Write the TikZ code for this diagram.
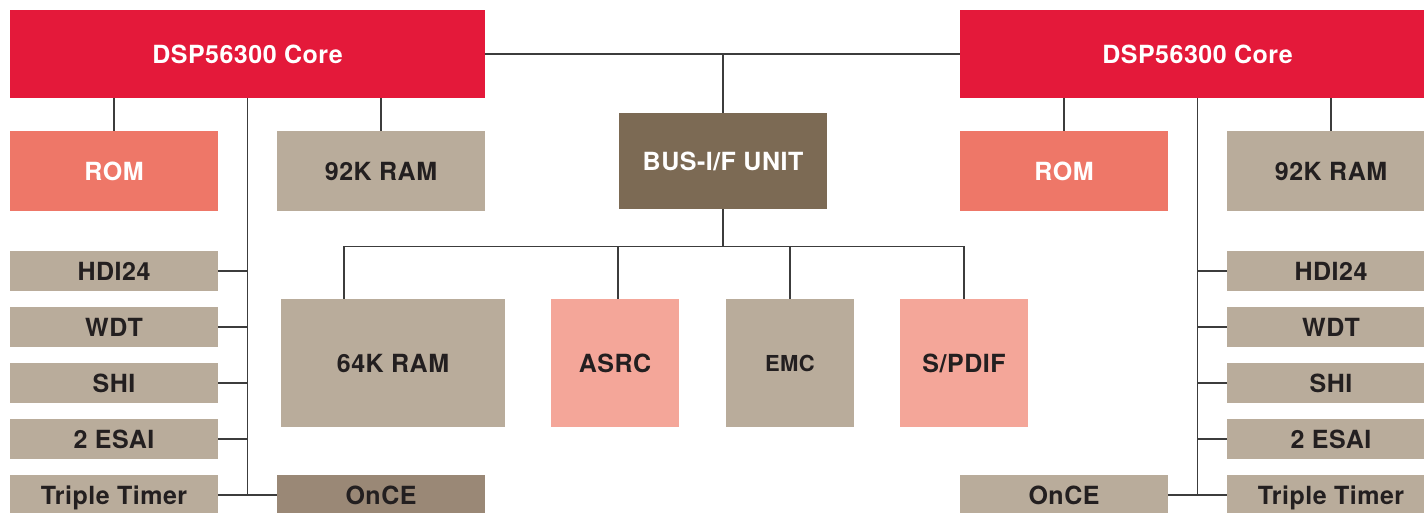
\documentclass[tikz,border=0pt]{standalone}
\usepackage{fontspec}
\setmainfont{TeX Gyre Heros}[LetterSpace=2]
\definecolor{corered}{HTML}{E4193A}
\definecolor{romred}{HTML}{EE7768}
\definecolor{taupe}{HTML}{B9AC9B}
\definecolor{busbrown}{HTML}{7C6A54}
\definecolor{pinkbox}{HTML}{F4A699}
\definecolor{oncebrown}{HTML}{9A8876}
\definecolor{txtdark}{HTML}{231F20}
\definecolor{wire}{HTML}{3C3C3C}
\tikzset{
  blk/.style={rectangle, inner sep=0pt, draw=none, font=\fontsize{25}{30}\selectfont\bfseries, text=txtdark, text height=18pt, text depth=0pt},
  core/.style={blk, fill=corered, text=white, minimum width=475pt, minimum height=88pt},
  rom/.style={blk, fill=romred, text=white, minimum width=208pt, minimum height=80pt},
  ram/.style={blk, fill=taupe, minimum width=208pt, minimum height=80pt},
  per/.style={blk, fill=taupe, minimum width=208pt, minimum height=40pt},
  sq/.style={blk, minimum width=128pt, minimum height=128pt},
  conn/.style={draw=wire, line width=1.3pt},
}
\begin{document}
\begin{tikzpicture}[x=1pt,y=-1pt]
\useasboundingbox (0,0) rectangle (1424,512);
\clip (0,0) rectangle (1424,512);
\fill[white] (0,0) rectangle (1424,512);
% left core group
\node[core] (coreL) at (247.5,54) {DSP56300 Core};
\node[rom] (romL) at (114,171) {ROM};
\node[ram] (ramL) at (381,171) {92K RAM};
\node[per] (hdiL) at (114,271) {HDI24};
\node[per] (wdtL) at (114,327) {WDT};
\node[per] (shiL) at (114,383) {SHI};
\node[per] (esaiL) at (114,439) {2 ESAI};
\node[per] (timL) at (114,495) {Triple Timer};
\node[per, fill=oncebrown] (onceL) at (381,495) {OnCE};
% middle
\node[blk, fill=busbrown, text=white, minimum width=208pt, minimum height=96pt] (bus) at (723,161) {BUS-I/F UNIT};
\node[blk, fill=taupe, minimum width=224pt, minimum height=128pt] (ram64) at (393,363) {64K RAM};
\node[sq, fill=pinkbox] (asrc) at (615,363) {ASRC};
\node[sq, fill=taupe, font=\fontsize{22}{26}\selectfont\bfseries, text height=16pt] (emc) at (790,363) {EMC};
\node[sq, fill=pinkbox] (spdif) at (964,363) {S/PDIF};
% right core group
\node[core] (coreR) at (1197.5,54) {DSP56300 Core};
\node[rom] (romR) at (1064,171) {ROM};
\node[ram] (ramR) at (1331,171) {92K RAM};
\node[per] (hdiR) at (1331,271) {HDI24};
\node[per] (wdtR) at (1331,327) {WDT};
\node[per] (shiR) at (1331,383) {SHI};
\node[per] (esaiR) at (1331,439) {2 ESAI};
\node[per] (timR) at (1331,495) {Triple Timer};
\node[per] (onceR) at (1064,495) {OnCE};
\coordinate (busj) at (723,247);
% connectors middle
\draw[conn] (coreL.east) -- (coreR.west);
\draw[conn] (bus.north) -- (bus.north |- coreL.east);
\draw[conn] (bus.south) -- (busj);
\draw[conn] ([xshift=-49pt]ram64.north) -- ++(0,-52) -| (spdif.north);
\draw[conn] ([xshift=3pt]asrc.north) -- ([xshift=3pt]asrc.north |- busj);
\draw[conn] (emc.north) -- (emc.north |- busj);
% connectors left
\draw[conn] (romL.north) -- (romL.north |- coreL.south);
\draw[conn] (ramL.north) -- (ramL.north |- coreL.south);
\draw[conn] (coreL.south) -- (coreL.south |- timL.east);
\foreach \n in {hdiL,wdtL,shiL,esaiL}{\draw[conn] (\n.east) -- (\n.east -| coreL.south);}
\draw[conn] (timL.east) -- (onceL.west);
% connectors right
\draw[conn] (romR.north) -- (romR.north |- coreR.south);
\draw[conn] (ramR.north) -- (ramR.north |- coreR.south);
\draw[conn] (coreR.south) -- (coreR.south |- timR.west);
\foreach \n in {hdiR,wdtR,shiR,esaiR}{\draw[conn] (\n.west) -- (\n.west -| coreR.south);}
\draw[conn] (onceR.east) -- (timR.west);
\end{tikzpicture}
\end{document}
